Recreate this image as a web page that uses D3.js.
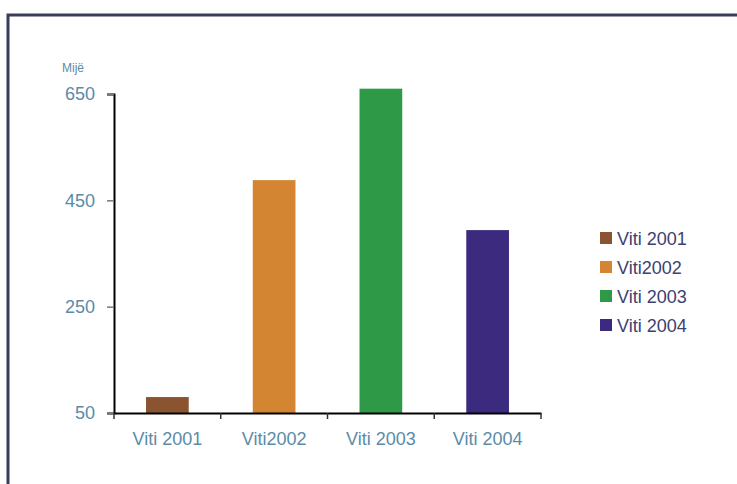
<!DOCTYPE html>
<html>
<head>
<meta charset="utf-8">
<script src="https://cdn.jsdelivr.net/npm/d3@7"></script>
<style>
  body { margin: 0; background: #fff; }
  svg { display: block; font-family: "Liberation Sans", Arial, sans-serif; }
</style>
</head>
<body>
<script>
var categories = ["Viti 2001", "Viti2002", "Viti 2003", "Viti 2004"];
var values = [80, 488, 660, 394];
var colorsList = ["#8b5430", "#d38532", "#2e9a48", "#3b2a7e"];
var yTicks = [50, 250, 450, 650];

var W = 737, H = 484;
var margin = {top: 94, left: 114},
    width = 427,
    height = 319;

var svg = d3.select("body").append("svg")
  .attr("width", W)
  .attr("height", H);

// frame
svg.append("rect")
  .attr("x", 8).attr("y", 15)
  .attr("width", W + 10).attr("height", H + 10)
  .attr("fill", "none")
  .attr("stroke", "#3a3d5c")
  .attr("stroke-width", 3);

var g = svg.append("g")
  .attr("transform", "translate(" + margin.left + "," + margin.top + ")");

var x = d3.scaleBand().domain(categories).range([0, width]).paddingInner(0).paddingOuter(0);
var y = d3.scaleLinear().domain([50, 650]).range([height, 0]);

// bars
g.selectAll(".bar")
  .data(values)
  .enter()
  .append("rect")
  .attr("class", "bar")
  .attr("x", function(d, i) { return x(categories[i]) + x.bandwidth() * 0.3; })
  .attr("width", x.bandwidth() * 0.4)
  .attr("y", function(d) { return y(d); })
  .attr("height", function(d) { return height - y(d); })
  .attr("fill", function(d, i) { return colorsList[i]; });

// y axis
var yAxis = g.append("g")
  .call(d3.axisLeft(y).tickValues(yTicks).tickSize(7).tickPadding(12));
yAxis.select(".domain").attr("stroke", "#000").attr("stroke-width", 2);
yAxis.selectAll(".tick line").attr("stroke", "#777").attr("stroke-width", 1.5);
yAxis.selectAll(".tick text")
  .attr("fill", "#5a8ba8")
  .style("font-size", "18px")
  .style("font-family", "Liberation Sans, Arial, sans-serif");

// x axis
var xAxis = g.append("g")
  .attr("transform", "translate(0," + height + ")")
  .call(d3.axisBottom(x).tickSize(0).tickPadding(19));
xAxis.select(".domain").attr("stroke", "#000").attr("stroke-width", 2);
xAxis.selectAll(".tick text")
  .attr("fill", "#5a8ba8")
  .style("font-size", "18px")
  .style("font-family", "Liberation Sans, Arial, sans-serif");

// boundary ticks between categories
var bounds = categories.map(function(c) { return x(c); }).concat([width]);
g.selectAll(".btick")
  .data(bounds)
  .enter()
  .append("line")
  .attr("x1", function(d) { return d; })
  .attr("x2", function(d) { return d; })
  .attr("y1", height)
  .attr("y2", height + 6)
  .attr("stroke", "#333")
  .attr("stroke-width", 1.5);

// unit label
svg.append("text")
  .attr("x", 62).attr("y", 72)
  .attr("fill", "#5a8ba8")
  .style("font-size", "12px")
  .text("Mijë");

// legend
var legend = svg.selectAll(".legend")
  .data(categories)
  .enter()
  .append("g")
  .attr("class", "legend")
  .attr("transform", function(d, i) { return "translate(600," + (232 + i * 29) + ")"; });

legend.append("rect")
  .attr("width", 12).attr("height", 12)
  .attr("fill", function(d, i) { return colorsList[i]; });

legend.append("text")
  .attr("x", 17).attr("y", 13)
  .attr("fill", "#3d4170")
  .style("font-size", "18px")
  .text(function(d) { return d; });
</script>
</body>
</html>
